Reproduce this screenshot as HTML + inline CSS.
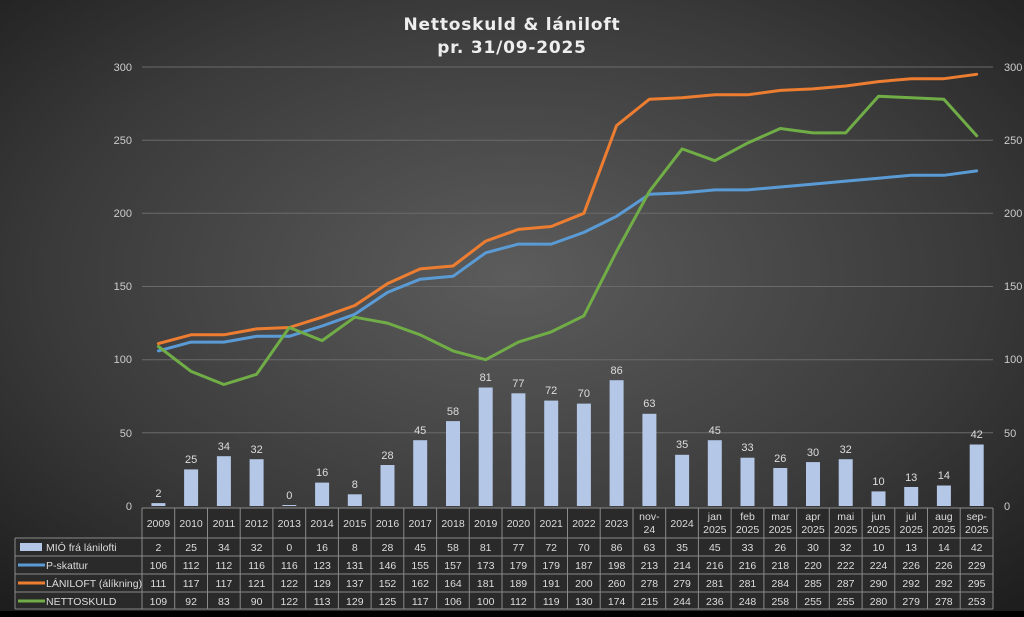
<!DOCTYPE html><html><head><meta charset="utf-8"><style>
html,body{margin:0;padding:0;width:1024px;height:617px;overflow:hidden;background:#000}
svg{display:block;font-family:"Liberation Sans",sans-serif}
</style></head><body>
<svg width="1024" height="617" viewBox="0 0 1024 617">
<defs><radialGradient id="bg" cx="0.5" cy="0.45" r="0.75"><stop offset="0" stop-color="#5c5c5c"/><stop offset="0.6" stop-color="#3a3a3a"/><stop offset="1" stop-color="#1c1c1c"/></radialGradient></defs>
<rect width="1024" height="611" fill="url(#bg)"/>
<rect y="611" width="1024" height="6" fill="#000"/>
<text x="512" y="30" text-anchor="middle" fill="#eee" font-size="17" font-weight="bold" letter-spacing="0.8" font-family="DejaVu Sans, sans-serif">Nettoskuld &amp; lániloft</text>
<text x="512" y="53" text-anchor="middle" fill="#eee" font-size="17" font-weight="bold" letter-spacing="0.8" font-family="DejaVu Sans, sans-serif">pr. 31/09-2025</text>
<g stroke="#6a6a6a" stroke-width="1">
<line x1="142" x2="993" y1="67" y2="67"/><line x1="142" x2="993" y1="140.2" y2="140.2"/><line x1="142" x2="993" y1="213.3" y2="213.3"/><line x1="142" x2="993" y1="286.5" y2="286.5"/><line x1="142" x2="993" y1="359.7" y2="359.7"/><line x1="142" x2="993" y1="432.8" y2="432.8"/>
</g>
<g fill="#ccc" font-size="11" text-anchor="end">
<text x="132" y="71">300</text><text x="132" y="144">250</text><text x="132" y="217">200</text><text x="132" y="290">150</text><text x="132" y="363">100</text><text x="132" y="437">50</text><text x="132" y="510">0</text>
</g>
<g fill="#ccc" font-size="11">
<text x="1004" y="71">300</text><text x="1004" y="144">250</text><text x="1004" y="217">200</text><text x="1004" y="290">150</text><text x="1004" y="363">100</text><text x="1004" y="437">50</text><text x="1004" y="510">0</text>
</g>
<g fill="#b4c7e7">
<rect x="151.4" y="503.1" width="14" height="2.9"/><rect x="184.1" y="469.4" width="14" height="36.6"/><rect x="216.9" y="456.2" width="14" height="49.8"/><rect x="249.6" y="459.2" width="14" height="46.8"/><rect x="282.3" y="505" width="14" height="1"/><rect x="315.1" y="482.6" width="14" height="23.4"/><rect x="347.8" y="494.3" width="14" height="11.7"/><rect x="380.5" y="465" width="14" height="41"/><rect x="413.2" y="440.2" width="14" height="65.8"/><rect x="446" y="421.1" width="14" height="84.9"/><rect x="478.7" y="387.5" width="14" height="118.5"/><rect x="511.4" y="393.3" width="14" height="112.7"/><rect x="544.2" y="400.6" width="14" height="105.4"/><rect x="576.9" y="403.6" width="14" height="102.4"/><rect x="609.6" y="380.2" width="14" height="125.8"/><rect x="642.4" y="413.8" width="14" height="92.2"/><rect x="675.1" y="454.8" width="14" height="51.2"/><rect x="707.8" y="440.2" width="14" height="65.8"/><rect x="740.5" y="457.7" width="14" height="48.3"/><rect x="773.3" y="468" width="14" height="38"/><rect x="806" y="462.1" width="14" height="43.9"/><rect x="838.7" y="459.2" width="14" height="46.8"/><rect x="871.5" y="491.4" width="14" height="14.6"/><rect x="904.2" y="487" width="14" height="19"/><rect x="936.9" y="485.5" width="14" height="20.5"/><rect x="969.7" y="444.5" width="14" height="61.5"/>
</g>
<g fill="#ddd" font-size="11" text-anchor="middle">
<text x="158.4" y="497">2</text><text x="191.1" y="463">25</text><text x="223.9" y="450">34</text><text x="256.6" y="453">32</text><text x="289.3" y="499">0</text><text x="322.1" y="476">16</text><text x="354.8" y="488">8</text><text x="387.5" y="459">28</text><text x="420.2" y="434">45</text><text x="453" y="415">58</text><text x="485.7" y="381">81</text><text x="518.4" y="387">77</text><text x="551.2" y="394">72</text><text x="583.9" y="397">70</text><text x="616.6" y="374">86</text><text x="649.4" y="407">63</text><text x="682.1" y="448">35</text><text x="714.8" y="434">45</text><text x="747.5" y="451">33</text><text x="780.3" y="462">26</text><text x="813" y="456">30</text><text x="845.7" y="453">32</text><text x="878.5" y="485">10</text><text x="911.2" y="481">13</text><text x="943.9" y="479">14</text><text x="976.7" y="438">42</text>
</g>
<g fill="none" stroke-width="3" stroke-linejoin="round" stroke-linecap="round">
<polyline stroke="#5b9bd5" points="158.4,350.9 191.1,342.1 223.9,342.1 256.6,336.3 289.3,336.3 322.1,326 354.8,314.3 387.5,292.4 420.2,279.2 453,276.3 485.7,252.8 518.4,244.1 551.2,244.1 583.9,232.4 616.6,216.3 649.4,194.3 682.1,192.9 714.8,189.9 747.5,189.9 780.3,187 813,184.1 845.7,181.1 878.5,178.2 911.2,175.3 943.9,175.3 976.7,170.9"/>
<polyline stroke="#ed7d31" points="158.4,343.6 191.1,334.8 223.9,334.8 256.6,328.9 289.3,327.5 322.1,317.2 354.8,305.5 387.5,283.6 420.2,268.9 453,266 485.7,241.1 518.4,229.4 551.2,226.5 583.9,213.3 616.6,125.5 649.4,99.2 682.1,97.7 714.8,94.8 747.5,94.8 780.3,90.4 813,88.9 845.7,86 878.5,81.6 911.2,78.7 943.9,78.7 976.7,74.3"/>
<polyline stroke="#70ad47" points="158.4,346.5 191.1,371.4 223.9,384.5 256.6,374.3 289.3,327.5 322.1,340.6 354.8,317.2 387.5,323.1 420.2,334.8 453,350.9 485.7,359.7 518.4,342.1 551.2,331.9 583.9,315.8 616.6,251.4 649.4,191.4 682.1,148.9 714.8,160.7 747.5,143.1 780.3,128.5 813,132.9 845.7,132.9 878.5,96.3 911.2,97.7 943.9,99.2 976.7,135.8"/>
</g>
<rect x="15" y="538" width="127" height="70" fill="#2a2a2a"/>
<rect x="142" y="508" width="851" height="100" fill="#2a2a2a"/>
<g stroke="#8a8a8a" stroke-width="1" fill="none">
<line x1="142" x2="993" y1="508" y2="508"/>
<line x1="15" x2="993" y1="538" y2="538"/><line x1="15" x2="993" y1="556" y2="556"/><line x1="15" x2="993" y1="574" y2="574"/><line x1="15" x2="993" y1="592" y2="592"/><line x1="15" x2="993" y1="609" y2="609"/>
<line x1="15" x2="15" y1="538" y2="609"/>
<path d="M142 508V609M174.7 508V609M207.5 508V609M240.2 508V609M272.9 508V609M305.7 508V609M338.4 508V609M371.1 508V609M403.8 508V609M436.6 508V609M469.3 508V609M502 508V609M534.8 508V609M567.5 508V609M600.2 508V609M633 508V609M665.7 508V609M698.4 508V609M731.1 508V609M763.9 508V609M796.6 508V609M829.3 508V609M862.1 508V609M894.8 508V609M927.5 508V609M960.2 508V609M993 508V609"/>
</g>
<rect x="20" y="543" width="22" height="8" fill="#b4c7e7"/>
<line x1="18" x2="45" y1="565" y2="565" stroke="#5b9bd5" stroke-width="3"/>
<line x1="18" x2="45" y1="583" y2="583" stroke="#ed7d31" stroke-width="3"/>
<line x1="18" x2="45" y1="601" y2="601" stroke="#70ad47" stroke-width="3"/>
<g fill="#ddd" font-size="10.5">
<text x="46" y="551">MIÓ frá lánilofti</text><text x="46" y="569">P-skattur</text><text x="46" y="587">LÁNILOFT (álíkning)</text><text x="46" y="605">NETTOSKULD</text>
</g>
<g fill="#ddd" font-size="10.5" text-anchor="middle">
<text x="158.4" y="527">2009</text><text x="191.1" y="527">2010</text><text x="223.9" y="527">2011</text><text x="256.6" y="527">2012</text><text x="289.3" y="527">2013</text><text x="322.1" y="527">2014</text><text x="354.8" y="527">2015</text><text x="387.5" y="527">2016</text><text x="420.2" y="527">2017</text><text x="453" y="527">2018</text><text x="485.7" y="527">2019</text><text x="518.4" y="527">2020</text><text x="551.2" y="527">2021</text><text x="583.9" y="527">2022</text><text x="616.6" y="527">2023</text>
<text x="649.4" y="520">nov-</text><text x="649.4" y="533">24</text><text x="682.1" y="527">2024</text>
<text x="714.8" y="520">jan</text><text x="714.8" y="533">2025</text><text x="747.5" y="520">feb</text><text x="747.5" y="533">2025</text><text x="780.3" y="520">mar</text><text x="780.3" y="533">2025</text><text x="813" y="520">apr</text><text x="813" y="533">2025</text><text x="845.7" y="520">mai</text><text x="845.7" y="533">2025</text><text x="878.5" y="520">jun</text><text x="878.5" y="533">2025</text><text x="911.2" y="520">jul</text><text x="911.2" y="533">2025</text><text x="943.9" y="520">aug</text><text x="943.9" y="533">2025</text><text x="976.7" y="520">sep-</text><text x="976.7" y="533">2025</text>
</g>
<g fill="#ddd" font-size="10.5" text-anchor="middle">
<text x="158.4" y="551">2</text><text x="191.1" y="551">25</text><text x="223.9" y="551">34</text><text x="256.6" y="551">32</text><text x="289.3" y="551">0</text><text x="322.1" y="551">16</text><text x="354.8" y="551">8</text><text x="387.5" y="551">28</text><text x="420.2" y="551">45</text><text x="453" y="551">58</text><text x="485.7" y="551">81</text><text x="518.4" y="551">77</text><text x="551.2" y="551">72</text><text x="583.9" y="551">70</text><text x="616.6" y="551">86</text><text x="649.4" y="551">63</text><text x="682.1" y="551">35</text><text x="714.8" y="551">45</text><text x="747.5" y="551">33</text><text x="780.3" y="551">26</text><text x="813" y="551">30</text><text x="845.7" y="551">32</text><text x="878.5" y="551">10</text><text x="911.2" y="551">13</text><text x="943.9" y="551">14</text><text x="976.7" y="551">42</text>
<text x="158.4" y="569">106</text><text x="191.1" y="569">112</text><text x="223.9" y="569">112</text><text x="256.6" y="569">116</text><text x="289.3" y="569">116</text><text x="322.1" y="569">123</text><text x="354.8" y="569">131</text><text x="387.5" y="569">146</text><text x="420.2" y="569">155</text><text x="453" y="569">157</text><text x="485.7" y="569">173</text><text x="518.4" y="569">179</text><text x="551.2" y="569">179</text><text x="583.9" y="569">187</text><text x="616.6" y="569">198</text><text x="649.4" y="569">213</text><text x="682.1" y="569">214</text><text x="714.8" y="569">216</text><text x="747.5" y="569">216</text><text x="780.3" y="569">218</text><text x="813" y="569">220</text><text x="845.7" y="569">222</text><text x="878.5" y="569">224</text><text x="911.2" y="569">226</text><text x="943.9" y="569">226</text><text x="976.7" y="569">229</text>
<text x="158.4" y="587">111</text><text x="191.1" y="587">117</text><text x="223.9" y="587">117</text><text x="256.6" y="587">121</text><text x="289.3" y="587">122</text><text x="322.1" y="587">129</text><text x="354.8" y="587">137</text><text x="387.5" y="587">152</text><text x="420.2" y="587">162</text><text x="453" y="587">164</text><text x="485.7" y="587">181</text><text x="518.4" y="587">189</text><text x="551.2" y="587">191</text><text x="583.9" y="587">200</text><text x="616.6" y="587">260</text><text x="649.4" y="587">278</text><text x="682.1" y="587">279</text><text x="714.8" y="587">281</text><text x="747.5" y="587">281</text><text x="780.3" y="587">284</text><text x="813" y="587">285</text><text x="845.7" y="587">287</text><text x="878.5" y="587">290</text><text x="911.2" y="587">292</text><text x="943.9" y="587">292</text><text x="976.7" y="587">295</text>
<text x="158.4" y="605">109</text><text x="191.1" y="605">92</text><text x="223.9" y="605">83</text><text x="256.6" y="605">90</text><text x="289.3" y="605">122</text><text x="322.1" y="605">113</text><text x="354.8" y="605">129</text><text x="387.5" y="605">125</text><text x="420.2" y="605">117</text><text x="453" y="605">106</text><text x="485.7" y="605">100</text><text x="518.4" y="605">112</text><text x="551.2" y="605">119</text><text x="583.9" y="605">130</text><text x="616.6" y="605">174</text><text x="649.4" y="605">215</text><text x="682.1" y="605">244</text><text x="714.8" y="605">236</text><text x="747.5" y="605">248</text><text x="780.3" y="605">258</text><text x="813" y="605">255</text><text x="845.7" y="605">255</text><text x="878.5" y="605">280</text><text x="911.2" y="605">279</text><text x="943.9" y="605">278</text><text x="976.7" y="605">253</text>
</g>
</svg>
</body></html>
